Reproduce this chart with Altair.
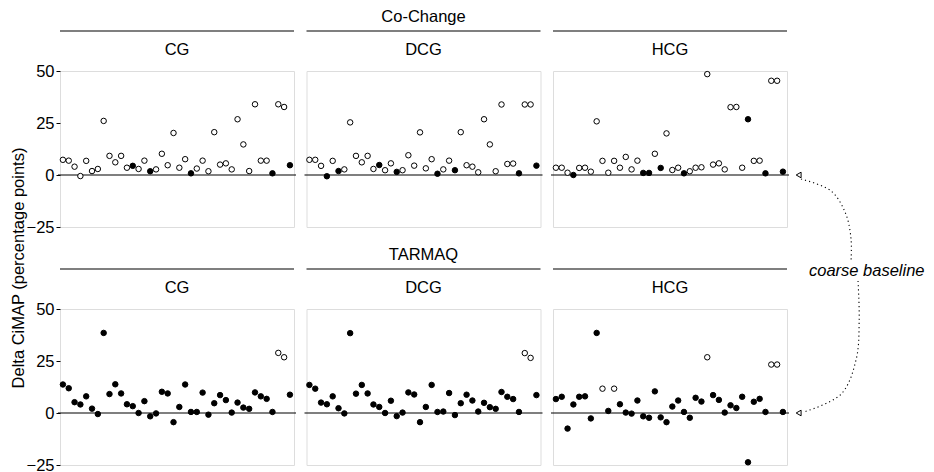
import altair as alt
import pandas as pd

FONT = "Liberation Sans"
FS = 16.5

# ---------------- data ----------------
index = list(range(1, 41))
col_labels = ["CG", "DCG", "HCG"]
row_labels = ["Co-Change", "TARMAQ"]
y_ticks = [-25, 0, 25, 50]

cc_cg = [7.3, 6.9, 4.0, -0.5, 6.8, 1.9, 2.9, 26.0, 9.2, 6.1, 9.2, 3.5, 4.4, 2.9, 6.9, 1.8, 2.7, 10.2, 4.7, 20.2,
         3.5, 7.6, 0.8, 3.1, 6.9, 1.8, 20.6, 5.0, 5.6, 2.7, 26.8, 14.7, 1.9, 34.0, 6.9, 6.9, 0.8, 34.0, 32.7, 4.7]
cc_cg_filled = [13, 16, 23, 37, 40]

cc_dcg = [7.3, 7.3, 4.4, -0.6, 6.8, 1.9, 2.7, 25.3, 9.2, 6.1, 9.2, 2.9, 4.8, 2.3, 5.6, 1.5, 2.3, 9.5, 4.5, 20.5,
          3.2, 7.6, 0.6, 2.7, 6.9, 2.3, 20.6, 4.7, 4.0, 1.3, 26.8, 14.7, 1.8, 33.9, 5.3, 5.5, 0.8, 33.9, 33.9, 4.5]
cc_dcg_filled = [4, 6, 13, 16, 23, 26, 37, 40]

cc_hcg = [3.5, 3.5, 1.1, 0.0, 3.4, 3.5, 1.6, 25.8, 6.8, 1.1, 6.8, 3.5, 8.7, 2.7, 6.9, 1.0, 1.0, 10.2, 3.4, 20.0,
          2.4, 3.5, 0.8, 1.8, 3.5, 3.7, 48.5, 5.0, 5.6, 2.7, 32.6, 32.7, 3.5, 26.8, 6.8, 6.9, 0.8, 45.3, 45.3, 1.6]
cc_hcg_filled = [4, 16, 17, 19, 23, 34, 37, 40]

tq_cg = [13.7, 11.9, 5.2, 4.1, 8.0, 2.1, -0.5, 38.5, 9.1, 13.8, 9.4, 4.2, 3.3, 0.0, 5.7, -1.6, -0.2, 10.2, 9.4, -4.4,
         2.9, 13.7, 0.5, 0.5, 9.8, -0.8, 4.7, 8.6, 6.2, 0.2, 5.0, 2.6, 2.0, 9.9, 8.0, 6.8, 0.5, 28.9, 26.8, 8.8]
tq_cg_open = [38, 39]

tq_dcg = [13.5, 11.7, 5.0, 4.2, 8.0, 2.3, -0.2, 38.4, 9.3, 13.5, 9.4, 4.1, 2.9, 0.0, 5.9, -1.5, 0.2, 9.9, 8.9, -4.4,
          2.9, 13.5, 0.5, 0.7, 9.6, -1.0, 4.7, 8.8, 6.0, 0.7, 4.9, 2.8, 2.0, 10.1, 7.8, 6.7, 0.5, 28.8, 26.5, 8.6]
tq_dcg_open = [38, 39]

tq_hcg = [6.7, 7.8, -7.5, 4.1, 7.8, 8.0, -2.6, 38.5, 11.7, 1.0, 11.7, 4.2, 0.2, -0.3, 6.0, -1.6, -2.3, 10.4, -2.1, -4.4,
          3.1, 6.0, 0.5, -2.3, 7.3, 5.5, 26.8, 8.6, 6.3, 0.2, 3.7, 2.4, 7.8, -23.7, 5.4, 6.8, 0.5, 23.3, 23.3, 0.5]
tq_hcg_open = [9, 11, 27, 38, 39]

# annotation ("coarse baseline"): guide curve anchor points in the lower HCG panel's data units
arc_top_x = [43.1, 48.3, 50.8, 51.7, 51.7]
arc_top_y = [112.5, 106.7, 95.7, 83.7, 73.1]
arc_bot_x = [52.9, 53.1, 52.6, 50.0, 43.6]
arc_bot_y = [63.5, 45.2, 26.0, 9.1, 0.5]
annot_text = "coarse baseline"
annot_x, annot_y = 54.4, 68.3
marker_x = 42.7
y_title = "Delta CiMAP (percentage points)"

# ---------------- layout ----------------
W, H = 234, 156
XDOM = [0.5, 40.7]
YDOM = [-25, 50]


def panel(values, filled_flags, col_label, row_label, first, middle, last, top_row):
    df = pd.DataFrame({"i": index, "v": values, "f": filled_flags})
    xscale = alt.Scale(domain=XDOM, nice=False, zero=False)
    yscale = alt.Scale(domain=YDOM, nice=False, zero=False)
    if first:
        yaxis = alt.Axis(values=y_ticks, tickSize=4, domain=False, grid=False, labelFontSize=FS,
                         labelPadding=2, title=None, labelFont=FONT, tickColor="black",
                         labelColor="black", ticks=True)
    else:
        yaxis = None
    X = lambda f: alt.X(f, scale=xscale, axis=None)
    Y = lambda f: alt.Y(f, scale=yscale, axis=yaxis)

    pts = alt.Chart(df).mark_point(shape="circle", size=30, filled=True, stroke="black",
                                   strokeWidth=1, opacity=1).encode(
        x=X("i:Q"), y=Y("v:Q"),
        fill=alt.condition(alt.datum.f == 1, alt.value("black"), alt.value("white")),
    )
    zdf = pd.DataFrame({"v": [0]})
    zero = alt.Chart(zdf).mark_rule(color="black", strokeWidth=1.2).encode(
        y=Y("v:Q"), x=alt.value(-2), x2=alt.value(W + 2))
    one = pd.DataFrame({"a": [0]})
    hline = alt.Chart(one).mark_rule(color="black", strokeWidth=1.2).encode(
        y=alt.value(-40), x=alt.value(0), x2=alt.value(W))
    ctext = alt.Chart(one).mark_text(text=col_label, font=FONT, fontSize=FS, color="black",
                                     baseline="middle", align="center").encode(
        x=alt.value(W / 2), y=alt.value(-21))
    layers = [zero, pts, hline, ctext]
    if middle:
        layers.append(alt.Chart(one).mark_text(text=row_label, font=FONT, fontSize=FS, color="black",
                                               baseline="middle", align="center").encode(
            x=alt.value(W / 2), y=alt.value(-54)))
    if first and not top_row:
        layers.append(alt.Chart(one).mark_text(text=y_title, font=FONT,
                                               fontSize=FS, angle=270, color="black",
                                               baseline="middle", align="center").encode(
            x=alt.value(-41), y=alt.value(-41)))
    if last:
        tdf = pd.DataFrame({"i": [marker_x], "v": [0]})
        tri = alt.Chart(tdf).mark_point(shape="triangle-left", size=32, filled=False, stroke="black",
                                        strokeWidth=1, opacity=1).encode(x=X("i:Q"), y=Y("v:Q"))
        layers.append(tri)
        if not top_row:
            for ax, ay in ((arc_top_x, arc_top_y), (arc_bot_x, arc_bot_y)):
                adf = pd.DataFrame({"i": ax, "v": ay, "k": list(range(len(ax)))})
                layers.append(alt.Chart(adf).mark_line(color="black", strokeWidth=1.1, strokeDash=[1.2, 3],
                                                       interpolate="catmull-rom").encode(
                    x=X("i:Q"), y=Y("v:Q"), order=alt.Order("k:Q")))
            ndf = pd.DataFrame({"i": [annot_x], "v": [annot_y], "t": [annot_text]})
            layers.append(alt.Chart(ndf).mark_text(font=FONT, fontSize=FS,
                                                   fontStyle="italic", color="black",
                                                   baseline="middle", align="center").encode(
                x=X("i:Q"), y=Y("v:Q"), text="t:N"))
    return alt.layer(*layers).properties(width=W, height=H)


def flags_from_filled(filled):
    return [1 if i in filled else 0 for i in index]


def flags_from_open(opened):
    return [0 if i in opened else 1 for i in index]


top_vals = [cc_cg, cc_dcg, cc_hcg]
top_flags = [flags_from_filled(cc_cg_filled), flags_from_filled(cc_dcg_filled), flags_from_filled(cc_hcg_filled)]
bot_vals = [tq_cg, tq_dcg, tq_hcg]
bot_flags = [flags_from_open(tq_cg_open), flags_from_open(tq_dcg_open), flags_from_open(tq_hcg_open)]

row1 = alt.hconcat(*[panel(top_vals[j], top_flags[j], col_labels[j], row_labels[0],
                           j == 0, j == 1, j == 2, True) for j in range(3)],
                   spacing=4.5)
row2 = alt.hconcat(*[panel(bot_vals[j], bot_flags[j], col_labels[j], row_labels[1],
                           j == 0, j == 1, j == 2, False) for j in range(3)],
                   spacing=4.5)

chart = alt.vconcat(row1, row2, spacing=-90).properties(
    padding={"left": 2, "top": 0, "right": 0, "bottom": 0}
).configure_view(stroke="transparent", strokeWidth=0).configure(font=FONT)

chart.save("out.html", embed_options={"renderer": "svg", "actions": False})
